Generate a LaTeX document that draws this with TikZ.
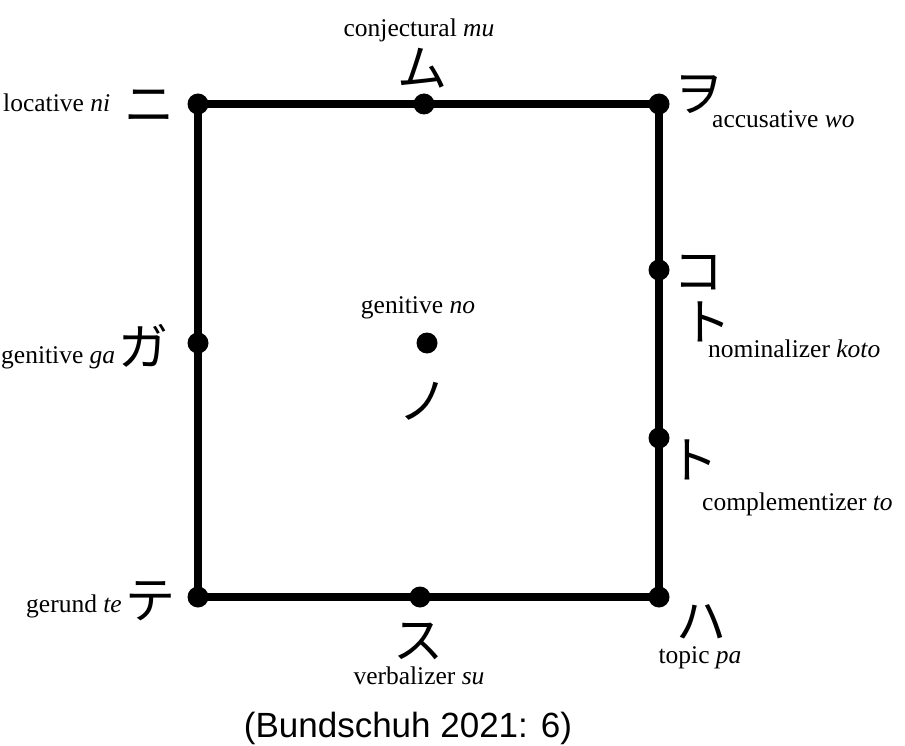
\documentclass[tikz,border=0pt]{standalone}
\usepackage{fontspec}
\setmainfont{Liberation Serif}
\newfontfamily\capfont{Liberation Sans}
\newfontfamily\jp{Noto Sans CJK JP}
\begin{document}
\begin{tikzpicture}[x=1pt,y=-1pt,
  dot/.style={circle,fill=black,inner sep=0pt,minimum size=21pt},
  edge/.style={line width=7.5pt},
  lbl/.style={inner sep=0pt,font=\fontsize{25.5}{30}\selectfont},
  kana/.style={inner sep=0pt,font=\jp\fontsize{50}{55}\selectfont},
  capt/.style={inner sep=0pt,font=\capfont\fontsize{35}{40}\selectfont}]
\useasboundingbox (0,0) rectangle (905,746);
\fill[white] (0,0) rectangle (905,746);
% corners and points
\node[dot] (ni) at (198,104) {};
\node[dot] (wo) at (659,104) {};
\node[dot] (pa) at (659,597) {};
\node[dot] (te) at (198,597) {};
\node[dot] (mu) at (424,104) {};
\node[dot] (ga) at (198,343) {};
\node[dot] (koto) at (659,270) {};
\node[dot] (to) at (659,438) {};
\node[dot] (su) at (420,597) {};
\node[dot] (no) at (427,343) {};
\draw[edge] (ni.center) -- (mu.center) -- (wo.center) -- (koto.center) -- (to.center) -- (pa.center) -- (su.center) -- (te.center) -- (ga.center) -- cycle;
% kana
\node[kana] (kmu) at (422,68) {ム};
\node[kana] (kni) at (149,106) {ニ};
\node[kana] (kwo) at (698,95) {ヲ};
\node[kana] (kko) at (698,273) {コ};
\node[kana] (kkt) at (706,322) {ト};
\node[kana] (kto) at (693,460) {ト};
\node[kana] (kga) at (143,346) {ガ};
\node[kana] (kno) at (423,401) {ノ};
\node[kana] (kte) at (150,601) {テ};
\node[kana] (ksu) at (418,641) {ス};
\node[kana] (kpa) at (701,622) {ハ};
% labels
\node[lbl,anchor=base] (lmu) at (419,37) {conjectural \textit{mu}};
\node[lbl,anchor=base west] (lni) at (3,112) {locative \textit{ni}};
\node[lbl,anchor=base west] (lwo) at (712,128) {accusative \textit{wo}};
\node[lbl,anchor=base west] (lga) at (1,363) {genitive \textit{ga}};
\node[lbl,anchor=base west] (lkoto) at (708,357) {nominalizer \textit{koto}};
\node[lbl,anchor=base west] (lto) at (702,510) {complementizer \textit{to}};
\node[lbl,anchor=base] (lno) at (418,313) {genitive \textit{no}};
\node[lbl,anchor=base east] (lte) at (122,612) {gerund \textit{te}};
\node[lbl,anchor=base] (lsu) at (419,684) {verbalizer \textit{su}};
\node[lbl,anchor=base] (lpa) at (700,663) {topic \textit{pa}};
\node[capt,anchor=base] (cap) at (408,737) {(Bundschuh 2021: 6)};
\end{tikzpicture}
\end{document}
